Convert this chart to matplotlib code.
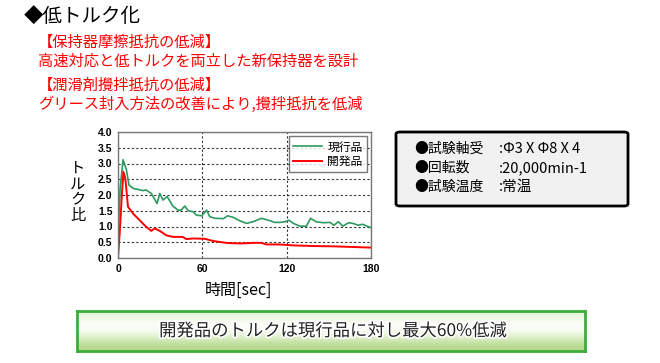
import numpy as np
import matplotlib
matplotlib.use("Agg")
import matplotlib.pyplot as plt
from matplotlib.patches import FancyBboxPatch
import matplotlib.patheffects as pe

plt.rcParams['font.family'] = ['Noto Sans CJK JP', 'DejaVu Sans']

# current product (現行品)
t_cur = [0, 1.5, 3.6, 6, 7.8, 10.7, 17.8, 20, 23.7, 27.8, 29.7, 32, 35, 39, 42.7, 45,
         47.5, 50, 53.4, 55.8, 59.4, 61, 63, 65.3, 69, 75, 78, 82, 86.7, 91.4, 96, 102,
         107, 111.6, 115, 118.8, 121.6, 124.7, 129.5, 134, 137, 141, 146, 150.8, 153.6,
         156.7, 160, 164, 167, 171, 174, 180]
v_cur = [0.6, 2.2, 3.12, 2.8, 2.32, 2.21, 2.14, 2.16, 2.05, 1.73, 2.05, 1.84, 1.95, 1.65,
         1.52, 1.52, 1.65, 1.5, 1.47, 1.36, 1.34, 1.41, 1.52, 1.31, 1.26, 1.25, 1.34, 1.29,
         1.18, 1.10, 1.15, 1.26, 1.2, 1.13, 1.13, 1.15, 1.2, 1.1, 1.01, 1.01, 1.26, 1.15,
         1.12, 1.13, 1.04, 1.15, 1.01, 1.12, 1.1, 1.04, 1.07, 0.96]

# developed product (開発品)
t_dev = [0, 1.2, 2.4, 3.8, 5.2, 7.1, 10.7, 15.4, 20, 23.7, 26, 29.7, 34.4, 39, 46, 48.6,
         53.4, 61.7, 67.7, 77, 86.7, 96, 102, 105.7, 115, 124.7, 139, 153, 167, 180]
v_dev = [0, 0.78, 1.73, 2.74, 2.53, 1.63, 1.41, 1.2, 0.99, 0.86, 0.94, 0.86, 0.72, 0.67,
         0.67, 0.6, 0.62, 0.61, 0.54, 0.48, 0.46, 0.48, 0.48, 0.43, 0.43, 0.40, 0.38, 0.37,
         0.35, 0.33]

x_ticks = [0, 60, 120, 180]
y_ticks = [0.0, 0.5, 1.0, 1.5, 2.0, 2.5, 3.0, 3.5, 4.0]

fig = plt.figure(figsize=(6.6, 3.63), dpi=100)
W, H = 660, 363

def fx(px):
    return px / W

def fy(py):
    return 1 - py / H

# headings
fig.text(fx(24), fy(16), '◆低トルク化', fontsize=14, va='center', ha='left', color='black')
red_lines = ['【保持器摩擦抵抗の低減】', '高速対応と低トルクを両立した新保持器を設計',
             '【潤滑剤攪拌抵抗の低減】', 'グリース封入方法の改善により,攪拌抵抗を低減']
red_y = [42, 61, 85, 104]
for s, yy in zip(red_lines, red_y):
    fig.text(fx(38), fy(yy), s, fontsize=11, va='center', ha='left', color='#ff0000')

# chart
ax = fig.add_axes([fx(118), fy(258), fx(371 - 118), (258 - 132) / H])
ax.plot(t_cur, v_cur, color='#2e9960', lw=1.2, label='現行品')
ax.plot(t_dev, v_dev, color='#ff0000', lw=1.4, label='開発品')
ax.set_xlim(0, 180)
ax.set_ylim(0, 4.0)
ax.set_xticks(x_ticks)
ax.set_yticks(y_ticks)
ax.set_yticklabels([f'{v:.1f}' for v in y_ticks])
ax.tick_params(length=0, labelsize=7.5, pad=4)
for lab in ax.get_xticklabels() + ax.get_yticklabels():
    lab.set_fontweight('bold')
    lab.set_family('Liberation Sans')
ax.grid(True, color='#333333', linestyle=(0, (2, 2)), lw=0.8)
for sp in ax.spines.values():
    sp.set_color('#777777')
    sp.set_linewidth(1)
leg = ax.legend(loc='upper right', bbox_to_anchor=(0.993, 0.985), prop={'size': 8.5},
                frameon=True, fancybox=False, handlelength=2.4, handletextpad=0.5,
                borderpad=0.35, labelspacing=0.15, borderaxespad=0.2)
leg.get_frame().set_edgecolor('#555555')
leg.get_frame().set_linewidth(1)

fig.text(fx(238), fy(290), '時間[sec]', fontsize=11.5, ha='center', va='center')
fig.text(fx(78), fy(192), '\n'.join('トルク比'), fontsize=11, ha='center', va='center',
         linespacing=0.9)

# info box
box = FancyBboxPatch((fx(396), fy(206)), fx(628 - 396), (206 - 132) / H,
                     boxstyle='round,pad=0,rounding_size=0.006',
                     transform=fig.transFigure, fc='#f1f1f1', ec='black', lw=2)
fig.patches.append(box)
info_keys = ['●試験軸受', '●回転数', '●試験温度']
info_vals = [':Φ3 X Φ8 X 4', ':20,000min-1', ':常温']
info_y = [149, 168, 187]
for k, v, yy in zip(info_keys, info_vals, info_y):
    fig.text(fx(414), fy(yy), k, fontsize=10, ha='left', va='center')
    fig.text(fx(499), fy(yy), v, fontsize=10.5, ha='left', va='center')

# bottom banner with gradient
bax = fig.add_axes([fx(77), fy(351), fx(585 - 77), (351 - 311) / H])
grad = np.array([[0.90, 0.96, 0.85], [0.97, 0.99, 0.95], [1.0, 1.0, 1.0],
                 [0.93, 0.97, 0.88], [0.80, 0.90, 0.68], [0.70, 0.85, 0.55]])
bax.imshow(grad[:, None, :], aspect='auto', extent=(0, 1, 0, 1), interpolation='bicubic')
bax.set_xticks([])
bax.set_yticks([])
for sp in bax.spines.values():
    sp.set_color('#3cae3c')
    sp.set_linewidth(2)
fig.text(fx(333), fy(331), '開発品のトルクは現行品に対し最大60%低減', fontsize=12.5,
         ha='center', va='center', color='#222222',
         path_effects=[pe.withStroke(linewidth=2.5, foreground='white')])

fig.savefig('out.png', dpi=100)
